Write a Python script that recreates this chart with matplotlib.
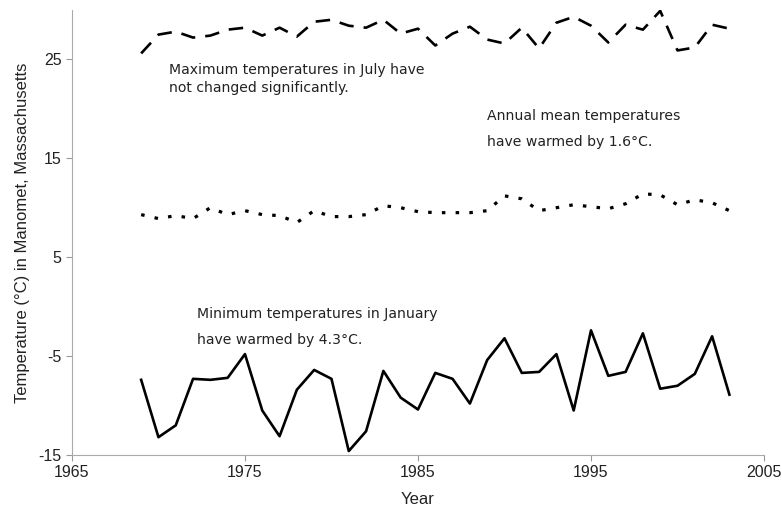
import numpy as np
import matplotlib.pyplot as plt

years = np.arange(1969, 2004)

# July maximum temperatures
t_max = [25.6, 27.5, 27.8, 27.2, 27.4, 28.0, 28.2, 27.4, 28.2, 27.3, 28.8, 29.0,
         28.4, 28.2, 29.0, 27.6, 28.1, 26.4, 27.6, 28.3, 27.0, 26.6, 28.2, 26.1,
         28.7, 29.3, 28.4, 26.7, 28.5, 28.0, 29.9, 25.9, 26.2, 28.5, 28.1]

# annual mean temperatures
t_mean = [9.3, 8.9, 9.2, 8.9, 10.0, 9.3, 9.7, 9.3, 9.2, 8.5, 9.7, 9.1,
          9.1, 9.3, 10.2, 10.0, 9.6, 9.5, 9.5, 9.5, 9.7, 11.2, 10.9, 9.7,
          10.0, 10.3, 10.1, 9.9, 10.4, 11.4, 11.3, 10.3, 10.8, 10.5, 9.7]

# January minimum temperatures
t_min = [-7.4, -13.2, -12.0, -7.3, -7.4, -7.2, -4.8, -10.5, -13.1, -8.4, -6.4, -7.3,
         -14.6, -12.6, -6.5, -9.2, -10.4, -6.7, -7.3, -9.8, -5.4, -3.2, -6.7, -6.6,
         -4.8, -10.5, -2.4, -7.0, -6.6, -2.7, -8.3, -8.0, -6.8, -3.0, -8.9]

xticks = [1965, 1975, 1985, 1995, 2005]
yticks = [-15, -5, 5, 15, 25]

plt.rcParams['font.family'] = ['Liberation Sans', 'DejaVu Sans']
plt.rcParams['axes.unicode_minus'] = False

fig = plt.figure(figsize=(7.82, 5.2), dpi=100)
ax = fig.add_axes([0.092, 0.125, 0.885, 0.856])

ax.plot(years, t_max, color='black', lw=1.9, linestyle=(0, (5.5, 3.8)))
ax.plot(years, t_mean, color='black', lw=2.3, linestyle=(0, (1.1, 3.2)))
ax.plot(years, t_min, color='black', lw=1.9)

ax.set_xlim(1965, 2005)
ax.set_ylim(-15, 30)
ax.set_xticks(xticks)
ax.set_yticks(yticks)
ax.tick_params(colors='#999999', labelcolor='#222222', labelsize=11.5, length=4, width=0.8)
for side in ['top', 'right']:
    ax.spines[side].set_visible(False)
for side in ['left', 'bottom']:
    ax.spines[side].set_color('#aaaaaa')
    ax.spines[side].set_linewidth(0.8)

ax.set_xlabel('Year', fontsize=12, labelpad=8, color='#222222')
ax.set_ylabel('Temperature (°C) in Manomet, Massachusetts', fontsize=12,
              labelpad=6, color='#222222')

txt = dict(fontsize=10.1, ha='left', va='center', family=['DejaVu Sans'], color='#222222')
ax.text(1970.6, 23.9, 'Maximum temperatures in July have', **txt)
ax.text(1970.6, 22.1, 'not changed significantly.', **txt)
ax.text(1989.0, 19.3, 'Annual mean temperatures', **txt)
ax.text(1989.0, 16.6, 'have warmed by 1.6°C.', **txt)
ax.text(1972.2, -0.7, 'Minimum temperatures in January', **txt)
ax.text(1972.2, -3.4, 'have warmed by 4.3°C.', **txt)

fig.savefig('out.png', dpi=100)
